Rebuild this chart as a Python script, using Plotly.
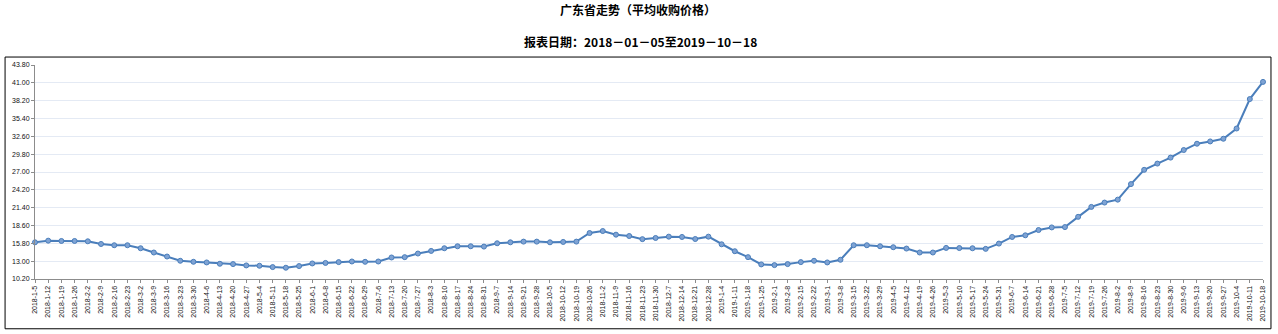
import plotly.graph_objects as go

dates = [
    "2018-1-5", "2018-1-12", "2018-1-19", "2018-1-26", "2018-2-2", "2018-2-9", "2018-2-16", "2018-2-23",
    "2018-3-2", "2018-3-9", "2018-3-16", "2018-3-23", "2018-3-30", "2018-4-6", "2018-4-13", "2018-4-20",
    "2018-4-27", "2018-5-4", "2018-5-11", "2018-5-18", "2018-5-25", "2018-6-1", "2018-6-8", "2018-6-15",
    "2018-6-22", "2018-6-29", "2018-7-6", "2018-7-13", "2018-7-20", "2018-7-27", "2018-8-3", "2018-8-10",
    "2018-8-17", "2018-8-24", "2018-8-31", "2018-9-7", "2018-9-14", "2018-9-21", "2018-9-28", "2018-10-5",
    "2018-10-12", "2018-10-19", "2018-10-26", "2018-11-2", "2018-11-9", "2018-11-16", "2018-11-23",
    "2018-11-30", "2018-12-7", "2018-12-14", "2018-12-21", "2018-12-28",
    "2019-1-4", "2019-1-11", "2019-1-18", "2019-1-25", "2019-2-1", "2019-2-8", "2019-2-15", "2019-2-22",
    "2019-3-1", "2019-3-8", "2019-3-15", "2019-3-22", "2019-3-29", "2019-4-5", "2019-4-12", "2019-4-19",
    "2019-4-26", "2019-5-3", "2019-5-10", "2019-5-17", "2019-5-24", "2019-5-31", "2019-6-7", "2019-6-14",
    "2019-6-21", "2019-6-28", "2019-7-5", "2019-7-12", "2019-7-19", "2019-7-26", "2019-8-2", "2019-8-9",
    "2019-8-16", "2019-8-23", "2019-8-30", "2019-9-6", "2019-9-13", "2019-9-20", "2019-9-27", "2019-10-4",
    "2019-10-11", "2019-10-18",
]

prices = [
    15.96, 16.22, 16.17, 16.17, 16.12, 15.70, 15.50, 15.50,
    15.03, 14.36, 13.73, 13.06, 12.90, 12.80, 12.59, 12.54,
    12.33, 12.28, 12.07, 11.97, 12.23, 12.64, 12.72, 12.85,
    12.95, 12.90, 12.95, 13.58, 13.63, 14.20, 14.61, 15.03,
    15.34, 15.34, 15.29, 15.81, 15.96, 16.07, 16.07, 15.96,
    16.02, 16.07, 17.42, 17.73, 17.16, 16.95, 16.46,
    16.64, 16.85, 16.80, 16.48, 16.85,
    15.65, 14.56, 13.63, 12.49, 12.38, 12.54, 12.85, 13.06,
    12.80, 13.22, 15.50, 15.50, 15.34, 15.19, 14.98, 14.36,
    14.36, 15.08, 15.06, 15.03, 14.93, 15.76, 16.80, 17.06,
    17.89, 18.30, 18.35, 19.96, 21.52, 22.20, 22.66, 25.10,
    27.34, 28.32, 29.26, 30.45, 31.44, 31.80, 32.22, 33.83,
    38.45, 41.15,
]

y_ticks = [10.2, 13.0, 15.8, 18.6, 21.4, 24.2, 27.0, 29.8, 32.6, 35.4, 38.2, 41.0, 43.8]

title_text = "广东省走势（平均收购价格）"
subtitle_text = "报表日期：2018－01－05至2019－10－18"

fig = go.Figure()
fig.add_trace(go.Scatter(
    x=dates, y=prices, mode="lines+markers",
    line=dict(color="#4a7ebb", width=2),
    marker=dict(symbol="circle", size=5, color="#7fa3d4", line=dict(color="#4a7ebb", width=1)),
    cliponaxis=False,
    showlegend=False,
))

fig.update_layout(
    width=1278, height=334,
    margin=dict(l=34, r=13, t=65, b=54),
    paper_bgcolor="white", plot_bgcolor="white",
    font=dict(family="Liberation Sans, Arial, sans-serif", color="#222222"),
    xaxis=dict(
        type="category", range=[0, len(dates) - 1],
        tickangle=-90, tickfont=dict(size=7, color="#111111"),
        showgrid=False, showline=True, linecolor="#8c8c8c", linewidth=1,
        ticks="outside", ticklen=3, tickcolor="#8c8c8c",
        zeroline=False, fixedrange=True,
    ),
    yaxis=dict(
        range=[10.2, 43.8], tickvals=y_ticks,
        ticktext=[f"{v:.2f}" for v in y_ticks],
        tickfont=dict(size=7, color="#111111"),
        showgrid=True, gridcolor="#e4eaf4", gridwidth=1,
        showline=True, linecolor="#8c8c8c", linewidth=1,
        ticks="outside", ticklen=3, tickcolor="#8c8c8c",
        zeroline=False, fixedrange=True,
    ),
    shapes=[dict(
        type="rect", xref="paper", yref="paper",
        x0=-30 / 1231, x1=1.0 + 8 / 1231, y0=-50 / 215, y1=1.0 + 8 / 215,
        line=dict(color="black", width=1), fillcolor="rgba(0,0,0,0)", layer="below",
    )],
    annotations=[
        dict(text="<b>" + title_text + "</b>", xref="paper", yref="paper",
             x=(638 - 34) / 1231, y=1.0 + (65 - 9) / 215, xanchor="center", yanchor="middle",
             showarrow=False, font=dict(family="Noto Sans CJK SC", size=12, color="black")),
        dict(text="<b>" + subtitle_text + "</b>", xref="paper", yref="paper",
             x=(641 - 34) / 1231, y=1.0 + (65 - 41) / 215, xanchor="center", yanchor="middle",
             showarrow=False, font=dict(family="Noto Sans CJK SC", size=12, color="black")),
    ],
)

fig.write_html("out.html")
